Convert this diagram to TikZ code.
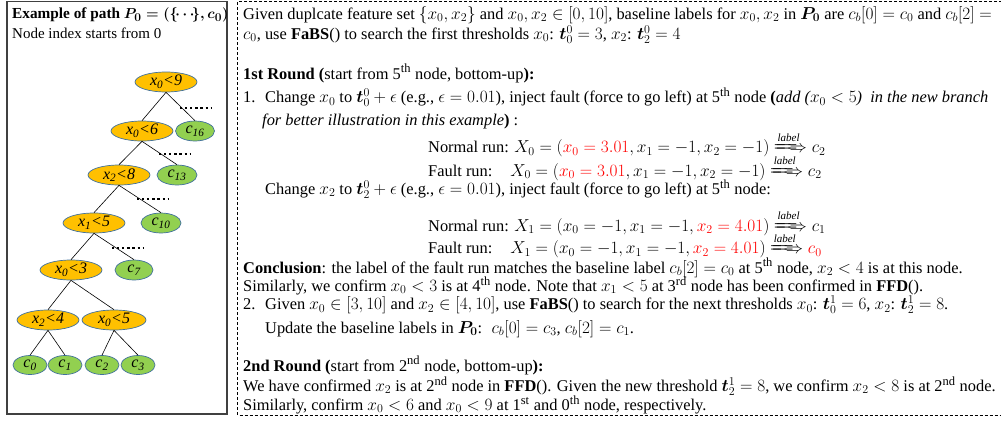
\documentclass[tikz,border=0pt]{standalone}
\usepackage{amsmath}
\usepackage{mathtools}
\usepackage{bm}
\usepackage{fontspec}
\setmainfont{Liberation Serif}
\usetikzlibrary{shapes.geometric}
\DeclareMathSizes{16.4}{17}{12.5}{10}
\DeclareMathSizes{15.3}{15.8}{11.5}{9}
\definecolor{orng}{HTML}{FFC000}
\definecolor{grn}{HTML}{92D050}
\definecolor{eborder}{HTML}{41719C}
\definecolor{rd}{HTML}{FF0000}
\definecolor{boxgray}{HTML}{404040}
\newcommand\rfont{\fontsize{16.4}{19.7}\selectfont}
\newcommand\lbl{\xRightarrow{\text{\fontsize{11}{11}\selectfont$\mathit{label}$}}}
\newcommand\sth[1]{\textsuperscript{#1}}
\begin{document}
\begin{tikzpicture}[x=1pt,y=-1pt,
  xn/.style={ellipse, draw=eborder, line width=0.7pt, fill=orng, inner sep=0pt,
    minimum width=62pt, minimum height=20pt, font=\fontsize{16}{16}\selectfont\itshape},
  cn/.style={xn, fill=grn, minimum width=39pt},
  lf/.style={cn, minimum width=34pt, minimum height=19pt},
  edge/.style={draw=black, line width=0.6pt},
  dotrow/.style={draw=black, line width=2.2pt, dash pattern=on 2.2pt off 2.9pt},
  tx/.style={anchor=base west, inner sep=0pt, font=\rfont},
  lt/.style={anchor=base west, inner sep=0pt, font=\fontsize{15}{17}\selectfont},
]
\useasboundingbox (0,0) rectangle (1001,421);
% left panel
\draw[boxgray, line width=1.3pt] (7,1.5) rectangle (227,414);
\node[lt, font=\fontsize{15.3}{17}\selectfont\bfseries] (title) at (12,18.5) {Example of path {\boldmath$P_0=(\{\!\cdots\!\},c_0)$}};
\node[lt] (sub) at (12,38.5) {Node index starts from 0};
% tree
\node[xn] (n0) at (166,82) {x\textsubscript{0}<9};
\node[xn] (n1) at (142,131) {x\textsubscript{0}<6};
\node[cn] (c16) at (195,131) {c\textsubscript{16}};
\node[xn] (n2) at (119,175) {x\textsubscript{2}<8};
\node[cn, minimum width=40pt] (c13) at (177,175) {c\textsubscript{13}};
\node[xn] (n3) at (94,223) {x\textsubscript{1}<5};
\node[cn, minimum width=40pt] (c10) at (161,223) {c\textsubscript{10}};
\node[xn] (n4) at (71,270) {x\textsubscript{0}<3};
\node[cn, minimum width=38pt] (c7) at (134,270) {c\textsubscript{7}};
\node[xn] (n5) at (48,320) {x\textsubscript{2}<4};
\node[xn, minimum width=64pt] (n6) at (114,320) {x\textsubscript{0}<5};
\node[lf] (l0) at (30,365) {c\textsubscript{0}};
\node[lf] (l1) at (65,365) {c\textsubscript{1}};
\node[lf] (l2) at (102,365) {c\textsubscript{2}};
\node[lf] (l3) at (138,365) {c\textsubscript{3}};
\foreach \a/\b in {n0/n1,n0/c16,n1/n2,n1/c13,n2/n3,n2/c10,n3/n4,n3/c7,n4/n5,n4/n6,n5/l0,n5/l1,n6/l2,n6/l3}
  \draw[edge] (\a.south) -- (\b.north);
\draw[dotrow] (180,108) -- (211,108);
\draw[dotrow] (159,154) -- (190,154);
\draw[dotrow] (137,199) -- (168,199);
\draw[dotrow] (112,248) -- (143,248);
% right panel
\draw[black, line width=0.7pt, dash pattern=on 3pt off 2pt] (1002,1.5) -- (237.5,1.5) -- (237.5,415) -- (1002,415);
\node[tx] (t1) at (243,19) {Given duplcate feature set $\{x_0,x_2\}$ and $x_0,x_2\in[0,10]$, baseline labels for $x_0,x_2$ in $\bm{P_0}$ are $c_b[0]=c_0$ and $c_b[2]=$};
\node[tx] (t2) at (243,39.3) {$c_0$, use \textbf{FaBS}() to search the first thresholds $x_0$: $\bm{t}_0^0=3$, $x_2$: $\bm{t}_2^0=4$};
\node[tx] (t3) at (243,79.2) {\textbf{1st Round (}start from 5\sth{th} node, bottom-up\textbf{):}};
\node[tx] (t4) at (243,102.5) {\makebox[22pt][l]{1.}Change $x_0$ to $\bm{t}_0^0+\epsilon$ (e.g., $\epsilon=0.01$), inject fault (force to go left) at 5\sth{th} node \textbf{(}\textit{add ($x_0<5$)~ in the new branch}};
\node[tx] (t5) at (262,125) {\textit{for better illustration in this example}\textbf{)} :};
\node[tx] (t6) at (428,152.5) {Normal run: $X_0=(\textcolor{rd}{x_0=3.01},x_1=-1,x_2=-1)\lbl c_2$};
\node[tx] (t7) at (428,176) {Fault run:\hspace{1.1em}$X_0=(\textcolor{rd}{x_0=3.01},x_1=-1,x_2=-1)\lbl c_2$};
\node[tx] (t8) at (265,194.3) {Change $x_2$ to $\bm{t}_2^0+\epsilon$ (e.g., $\epsilon=0.01$), inject fault (force to go left) at 5\sth{th} node:};
\node[tx] (t9) at (428,231) {Normal run: $X_1=(x_0=-1,x_1=-1,\textcolor{rd}{x_2=4.01})\lbl c_1$};
\node[tx] (t10) at (428,253.5) {Fault run:\hspace{1.1em}$X_1=(x_0=-1,x_1=-1,\textcolor{rd}{x_2=4.01})\lbl \textcolor{rd}{c_0}$};
\node[tx] (t11) at (243,273) {\textbf{Conclusion}: the label of the fault run matches the baseline label $c_b[2]=c_0$ at 5\sth{th} node, $x_2<4$ is at this node.};
\node[tx] (t12) at (243,291.3) {Similarly, we confirm $x_0<3$ is at 4\sth{th} node. Note that $x_1<5$ at 3\sth{rd} node has been confirmed in \textbf{FFD}().};
\node[tx] (t13) at (243,309.7) {\makebox[22pt][l]{2.}Given $x_0\in[3,10]$ and $x_2\in[4,10]$, use \textbf{FaBS}() to search for the next thresholds $x_0$: $\bm{t}_0^1=6$, $x_2$: $\bm{t}_2^1=8$.};
\node[tx] (t14) at (265,333) {Update the baseline labels in $\bm{P_0}$:~ $c_b[0]=c_3$, $c_b[2]=c_1$.};
\node[tx] (t15) at (243,371) {\textbf{2nd Round (}start from 2\sth{nd} node, bottom-up\textbf{):}};
\node[tx] (t16) at (243,391.3) {We have confirmed $x_2$ is at 2\sth{nd} node in \textbf{FFD}(). Given the new threshold $\bm{t}_2^1=8$, we confirm $x_2<8$ is at 2\sth{nd} node.};
\node[tx] (t17) at (243,410.3) {Similarly, confirm $x_0<6$ and $x_0<9$ at 1\sth{st} and 0\sth{th} node, respectively.};
\end{tikzpicture}
\end{document}
